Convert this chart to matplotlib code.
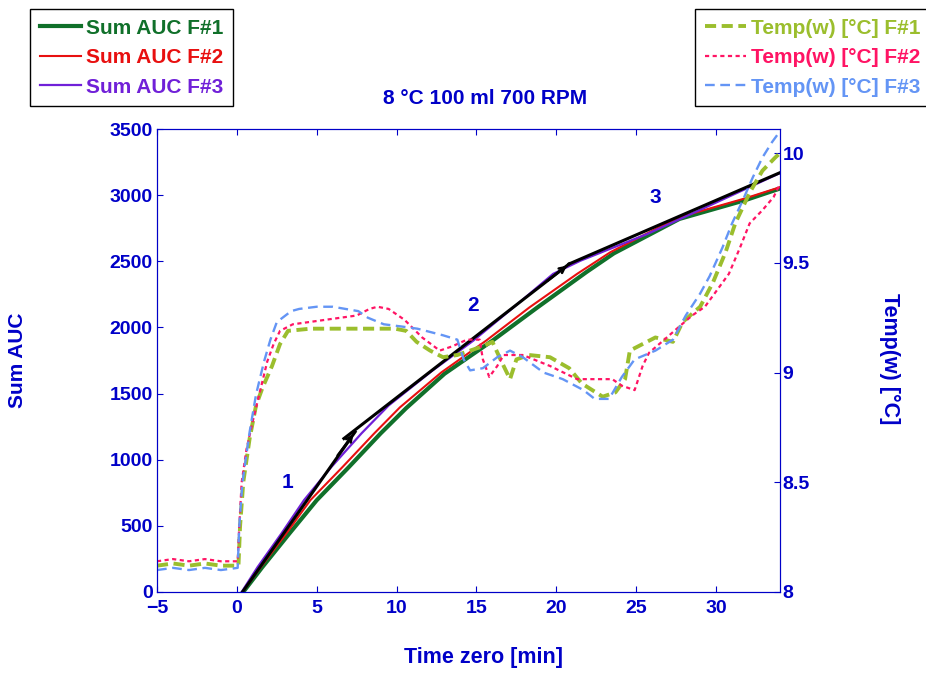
import matplotlib
matplotlib.use('Agg')
import matplotlib.pyplot as plt

plt.rcParams['font.family'] = ['Liberation Sans', 'DejaVu Sans']
plt.rcParams['font.weight'] = 'bold'
plt.rcParams['lines.scale_dashes'] = False

blue = '#0000C8'

# Sum AUC curves (left axis)
auc1_x = [0.4, 1.6, 3.3, 5.0, 7.0, 9.0, 10.6, 13.0, 16.0, 18.8, 21.9, 23.6, 27.7, 31.9, 34.0]
auc1_y = [0, 189, 444, 694, 943, 1199, 1390, 1650, 1900, 2150, 2420, 2560, 2820, 2965, 3050]
auc2_x = [0.35, 1.5, 3.1, 4.6, 6.6, 8.6, 10.2, 12.8, 15.6, 18.3, 21.3, 23.4, 27.6, 31.8, 34.0]
auc2_y = [0, 189, 444, 694, 943, 1199, 1395, 1660, 1900, 2150, 2405, 2570, 2830, 2975, 3060]
auc3_x = [0.3, 1.3, 2.8, 4.2, 5.9, 7.8, 9.5, 12.2, 14.8, 17.3, 19.8, 21.5, 25.7, 29.8, 34.0]
auc3_y = [0, 189, 444, 694, 943, 1199, 1410, 1670, 1900, 2150, 2405, 2504, 2707, 2933, 3167]

# fitted segments (black)
fit1_x = [0.35, 7.4]
fit1_y = [0, 1210]
fit2_x = [6.7, 20.8]
fit2_y = [1160, 2480]
fit3_x = [20.8, 34.0]
fit3_y = [2480, 3170]

seg_labels = ['1', '2', '3']
seg_lab_x = [3.2, 14.8, 26.2]
seg_lab_y = [830, 2165, 2985]

# water temperature (right axis)
t1_x = [-5, -4, -3, -2, -1, 0.1, 0.2, 0.4, 0.8, 1.2, 1.6, 2.2, 2.7, 3.2, 4.6, 6.3, 8.0, 9.9, 10.6,
        11.25, 12.1, 12.9, 13.8, 14.6, 15.4, 16.0, 16.5, 17.1, 17.5, 18.3, 19.6, 20.8, 21.6, 22.9,
        23.7, 24.3, 24.6, 26.2, 27.3, 27.9, 29.0, 29.8, 30.6, 31.2, 32.1, 32.9, 33.7, 34.0]
t1_y = [8.12, 8.13, 8.12, 8.13, 8.12, 8.12, 8.3, 8.5, 8.7, 8.85, 8.93, 9.03, 9.13, 9.19, 9.2, 9.2,
        9.2, 9.2, 9.19, 9.14, 9.1, 9.07, 9.08, 9.1, 9.12, 9.14, 9.06, 8.97, 9.06, 9.08, 9.07, 9.02,
        8.95, 8.89, 8.91, 8.97, 9.1, 9.16, 9.14, 9.23, 9.3, 9.41, 9.55, 9.68, 9.82, 9.92, 9.98, 10.0]
t2_x = [-5, -4, -3, -2, -1, 0.05, 0.15, 0.3, 0.6, 1.0, 1.5, 1.9, 2.3, 2.7, 3.5, 4.5, 5.5, 6.5, 7.5,
        8.3, 8.8, 9.5, 10.5, 11.6, 12.7, 13.5, 14.4, 15.2, 15.4, 15.8, 16.3, 16.7, 17.9, 19.6, 21.3,
        23.5, 24.1, 24.9, 25.4, 25.8, 26.6, 27.7, 28.5, 29.3, 30.2, 30.8, 31.5, 32.1, 32.9, 33.6, 34.0]
t2_y = [8.14, 8.15, 8.14, 8.15, 8.14, 8.14, 8.3, 8.5, 8.65, 8.78, 8.93, 9.05, 9.13, 9.19, 9.22, 9.23,
        9.24, 9.25, 9.26, 9.29, 9.3, 9.29, 9.24, 9.16, 9.1, 9.12, 9.15, 9.15, 9.06, 8.98, 9.03, 9.08,
        9.08, 9.03, 8.97, 8.97, 8.94, 8.92, 9.03, 9.09, 9.14, 9.21, 9.26, 9.3, 9.39, 9.45, 9.57, 9.68,
        9.74, 9.8, 9.86]
t3_x = [-5, -4, -3, -2, -1, 0.05, 0.15, 0.35, 0.8, 1.2, 1.7, 2.1, 2.5, 3.4, 3.9, 5.0, 6.0, 7.6, 8.2,
        9.2, 10.3, 11.3, 12.9, 13.8, 14.2, 14.6, 15.4, 16.3, 17.1, 17.9, 19.2, 20.4, 21.7, 22.4, 23.3,
        24.1, 24.9, 26.2, 27.3, 28.1, 29.0, 29.6, 30.4, 31.0, 31.7, 32.3, 32.9, 33.5, 34.0]
t3_y = [8.10, 8.11, 8.10, 8.11, 8.10, 8.11, 8.3, 8.5, 8.73, 8.9, 9.05, 9.15, 9.23, 9.28, 9.29, 9.3,
        9.3, 9.28, 9.25, 9.22, 9.21, 9.2, 9.17, 9.15, 9.06, 9.01, 9.02, 9.07, 9.1, 9.07, 9.0, 8.97,
        8.92, 8.88, 8.88, 8.98, 9.06, 9.1, 9.15, 9.26, 9.36, 9.44, 9.57, 9.68, 9.79, 9.89, 9.98,
        10.05, 10.1]

fig = plt.figure(figsize=(9.26, 6.73), dpi=100)
ax = fig.add_axes([157 / 926, 1 - 592 / 673, 623 / 926, 463 / 673])
ax2 = ax.twinx()

l1, = ax.plot(auc1_x, auc1_y, color='#10702A', lw=3, label='Sum AUC F#1')
l2, = ax.plot(auc2_x, auc2_y, color='#E81010', lw=1.5, label='Sum AUC F#2')
l3, = ax.plot(auc3_x, auc3_y, color='#7020D8', lw=1.6, label='Sum AUC F#3')
for fx, fy in [(fit1_x, fit1_y), (fit2_x, fit2_y), (fit3_x, fit3_y)]:
    ax.plot(fx, fy, color='black', lw=2.2)
ax.annotate('', xy=(fit1_x[1], fit1_y[1]), xytext=(6.2, 1015),
            arrowprops=dict(arrowstyle='->', color='black', lw=1.8))
ax.annotate('', xy=(fit2_x[1], fit2_y[1]), xytext=(19.3, 2340),
            arrowprops=dict(arrowstyle='->', color='black', lw=1.8))
for s, sx, sy in zip(seg_labels, seg_lab_x, seg_lab_y):
    ax.text(sx, sy, s, color=blue, fontsize=15, fontweight='bold', ha='center', va='center')

t1, = ax2.plot(t1_x, t1_y, color='#9BBE2D', lw=2.8, dashes=(8, 4), label='Temp(w) [°C] F#1')
t2, = ax2.plot(t2_x, t2_y, color='#FF1464', lw=1.6, dashes=(3, 2.5), label='Temp(w) [°C] F#2')
t3, = ax2.plot(t3_x, t3_y, color='#6495F5', lw=1.7, dashes=(7, 4), label='Temp(w) [°C] F#3')

ax.set_xlim(-5, 34)
ax.set_ylim(0, 3500)
ax2.set_ylim(8, 10.11)
ax.set_xticks([-5, 0, 5, 10, 15, 20, 25, 30])
ax.set_yticks(range(0, 3501, 500))
ax2.set_yticks([8, 8.5, 9, 9.5, 10])
ax2.set_yticklabels(['8', '8.5', '9', '9.5', '10'])

ax.tick_params(axis='both', direction='in', colors=blue, labelsize=14, length=4, top=True, pad=3)
ax.tick_params(axis='x', pad=6)
ax2.tick_params(axis='y', direction='in', colors=blue, labelsize=14, length=4, pad=2)
for a in (ax, ax2):
    for sp in a.spines.values():
        sp.set_color(blue)

fig.text(485 / 926, 1 - 99 / 673, '8 °C 100 ml 700 RPM', color=blue, fontsize=15,
         fontweight='bold', ha='center', va='center')
fig.text(484 / 926, 1 - 657 / 673, 'Time zero [min]', color=blue, fontsize=15.5,
         fontweight='bold', ha='center', va='center')
fig.text(18 / 926, 1 - 360 / 673, 'Sum AUC', color=blue, fontsize=15, fontweight='bold',
         rotation=90, ha='center', va='center')
fig.text(890 / 926, 1 - 359 / 673, 'Temp(w) [°C]', color=blue, fontsize=15.5, fontweight='bold',
         rotation=-90, ha='center', va='center')

leg_kw = dict(loc='upper left', bbox_transform=fig.transFigure, frameon=True, fancybox=False,
              edgecolor='black', labelcolor='linecolor', prop={'weight': 'bold', 'size': 15},
              handlelength=2.0, handletextpad=0.2, borderpad=0.47, labelspacing=0.5,
              borderaxespad=0, framealpha=1)
lg1 = fig.legend([l1, l2, l3], [l.get_label() for l in (l1, l2, l3)],
                 bbox_to_anchor=(30 / 926, 1 - 9 / 673), **leg_kw)
lg2 = fig.legend([t1, t2, t3], [l.get_label() for l in (t1, t2, t3)],
                 bbox_to_anchor=(695 / 926, 1 - 9 / 673), **leg_kw)
for lg in (lg1, lg2):
    lg.get_frame().set_linewidth(1.0)

fig.savefig('out.png', dpi=100)
